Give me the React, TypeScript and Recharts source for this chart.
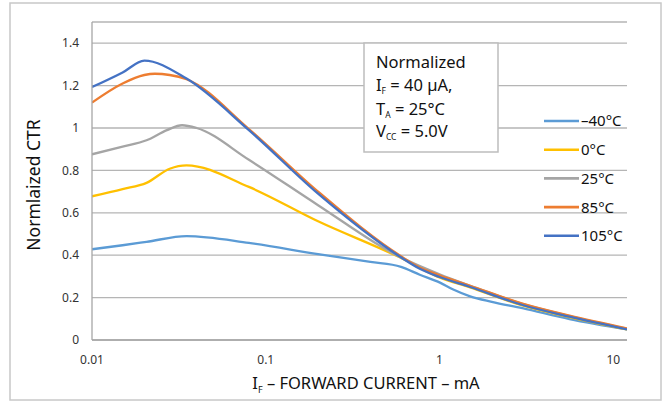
import React from 'react';
import { LineChart, Line, XAxis, YAxis, CartesianGrid, Legend } from 'recharts';

const xTicks = [0.01, 0.1, 1, 10];
const yTicks = [0, 0.2, 0.4, 0.6, 0.8, 1, 1.2, 1.4];

const seriesNames = ['\u201340\u00B0C', '0\u00B0C', '25\u00B0C', '85\u00B0C', '105\u00B0C'];
const seriesColors = ['#5B9BD5', '#FFC000', '#A5A5A5', '#ED7D31', '#4472C4'];

// forward current (mA) and normalized CTR, per temperature
const ifM40 = [0.01, 0.015, 0.0206, 0.035, 0.08, 0.2, 0.4, 0.6, 0.77, 1, 1.2, 1.5, 2, 3, 5.6, 12];
const ctrM40 = [0.428, 0.447, 0.463, 0.49, 0.458, 0.405, 0.368, 0.345, 0.308, 0.272, 0.238, 0.206, 0.18, 0.15, 0.099, 0.05];

const if0 = [0.01, 0.015, 0.0206, 0.028, 0.035, 0.08, 0.2, 0.59, 1, 1.5, 3, 5.6, 12];
const ctr0 = [0.678, 0.712, 0.741, 0.808, 0.824, 0.722, 0.56, 0.39, 0.295, 0.248, 0.163, 0.108, 0.05];

const if25 = [0.01, 0.015, 0.0206, 0.027, 0.033, 0.04, 0.08, 0.2, 0.59, 1, 1.5, 3, 5.6, 12];
const ctr25 = [0.876, 0.912, 0.942, 0.99, 1.013, 1.0, 0.85, 0.636, 0.392, 0.31, 0.256, 0.17, 0.113, 0.053];

const if85 = [0.01, 0.015, 0.02, 0.023, 0.028, 0.035, 0.08, 0.2, 0.6, 0.77, 1, 1.5, 3, 5.6, 12];
const ctr85 = [1.12, 1.21, 1.25, 1.256, 1.25, 1.23, 0.995, 0.7, 0.395, 0.342, 0.305, 0.256, 0.172, 0.115, 0.055];

const if105 = [0.01, 0.015, 0.02, 0.035, 0.08, 0.2, 0.6, 0.77, 1, 1.5, 3, 5.6, 12];
const ctr105 = [1.193, 1.262, 1.318, 1.233, 0.99, 0.69, 0.39, 0.336, 0.297, 0.25, 0.165, 0.11, 0.05];

const currents = [ifM40, if0, if25, if85, if105];
const ctrs = [ctrM40, ctr0, ctr25, ctr85, ctr105];

const series = seriesNames.map((name, i) => ({
  name,
  color: seriesColors[i],
  data: currents[i].map((x, j) => ({ x, y: ctrs[i][j] })),
}));

const FONT = '"Noto Sans", "Open Sans", sans-serif';

const LegendContent = () => (
  <svg width={125} height={145} style={{ overflow: 'visible' }}>
    {series.map((s, i) => {
      const cy = 14 + i * 28.7;
      return (
        <g key={s.name}>
          <line x1={4} x2={39} y1={cy} y2={cy} stroke={s.color} strokeWidth={2.6} />
          <text x={41} y={cy} dy="0.36em" fontSize={15} fontFamily={FONT} fill="#111">
            {s.name}
          </text>
        </g>
      );
    })}
  </svg>
);

export default function App() {
  return (
    <div style={{ position: 'fixed', left: 0, top: 0, width: 667, height: 406, background: '#fff' }}>
      <LineChart width={667} height={406} margin={{ top: 22, right: 40, bottom: 36, left: 32 }}>
        <CartesianGrid vertical={false} stroke="#b5b5b5" strokeWidth={1.3} />
        <XAxis
          type="number"
          dataKey="x"
          scale="log"
          domain={[0.01, 12]}
          ticks={xTicks}
          allowDataOverflow
          tickLine={false}
          axisLine={{ stroke: '#a6a6a6', strokeWidth: 1.3 }}
          tick={{ fill: '#333', fontSize: 12, fontFamily: FONT }}
          tickSize={0}
          tickMargin={15}
          height={30}
        />
        <YAxis
          type="number"
          domain={[0, 1.5]}
          ticks={yTicks}
          allowDataOverflow
          tickLine={false}
          axisLine={{ stroke: '#a6a6a6', strokeWidth: 1.3 }}
          tick={{ fill: '#333', fontSize: 12, fontFamily: FONT }}
          tickSize={0}
          tickMargin={13}
          width={60}
        />
        {series.map((s) => (
          <Line
            key={s.name}
            name={s.name}
            data={s.data}
            dataKey="y"
            type="monotone"
            stroke={s.color}
            strokeWidth={2.3}
            dot={false}
            activeDot={false}
            isAnimationActive={false}
          />
        ))}
        <Legend
          layout="vertical"
          align="center"
          verticalAlign="middle"
          wrapperStyle={{ left: 540, top: 107, width: 125, height: 145 }}
          content={LegendContent}
        />
      </LineChart>
      <svg
        width={667}
        height={406}
        style={{ position: 'absolute', left: 0, top: 0, pointerEvents: 'none' }}
      >
        <rect x={10} y={3} width={651} height={397} fill="none" stroke="#c8c8c8" strokeWidth={1.5} />
        <rect x={364} y={43} width={134} height={109} fill="#fff" stroke="#bdbdbd" strokeWidth={1.5} />
        <g fontFamily={FONT} fontSize={16.5} fill="#111">
          <text x={376} y={68}>Normalized</text>
          <text x={376} y={91}>
            I<tspan fontSize={8.5} dy={3}>F</tspan>
            <tspan dy={-3}> = 40 µA,</tspan>
          </text>
          <text x={376} y={114.5}>
            T<tspan fontSize={8.5} dy={3}>A</tspan>
            <tspan dy={-3}> = 25°C</tspan>
          </text>
          <text x={376} y={137}>
            V<tspan fontSize={8.5} dy={3}>CC</tspan>
            <tspan dy={-3}> = 5.0V</tspan>
          </text>
        </g>
        <text x={366} y={389} textAnchor="middle" fontFamily={FONT} fontSize={16.5} fill="#111">
          I<tspan fontSize={9} dy={4}>F</tspan>
          <tspan dy={-4}> – FORWARD CURRENT – mA</tspan>
        </text>
        <text
          x={40}
          y={185}
          transform="rotate(-90 40 185)"
          textAnchor="middle"
          fontFamily={FONT}
          fontSize={17.5}
          fill="#111"
        >
          Normlaized CTR
        </text>
      </svg>
    </div>
  );
}
